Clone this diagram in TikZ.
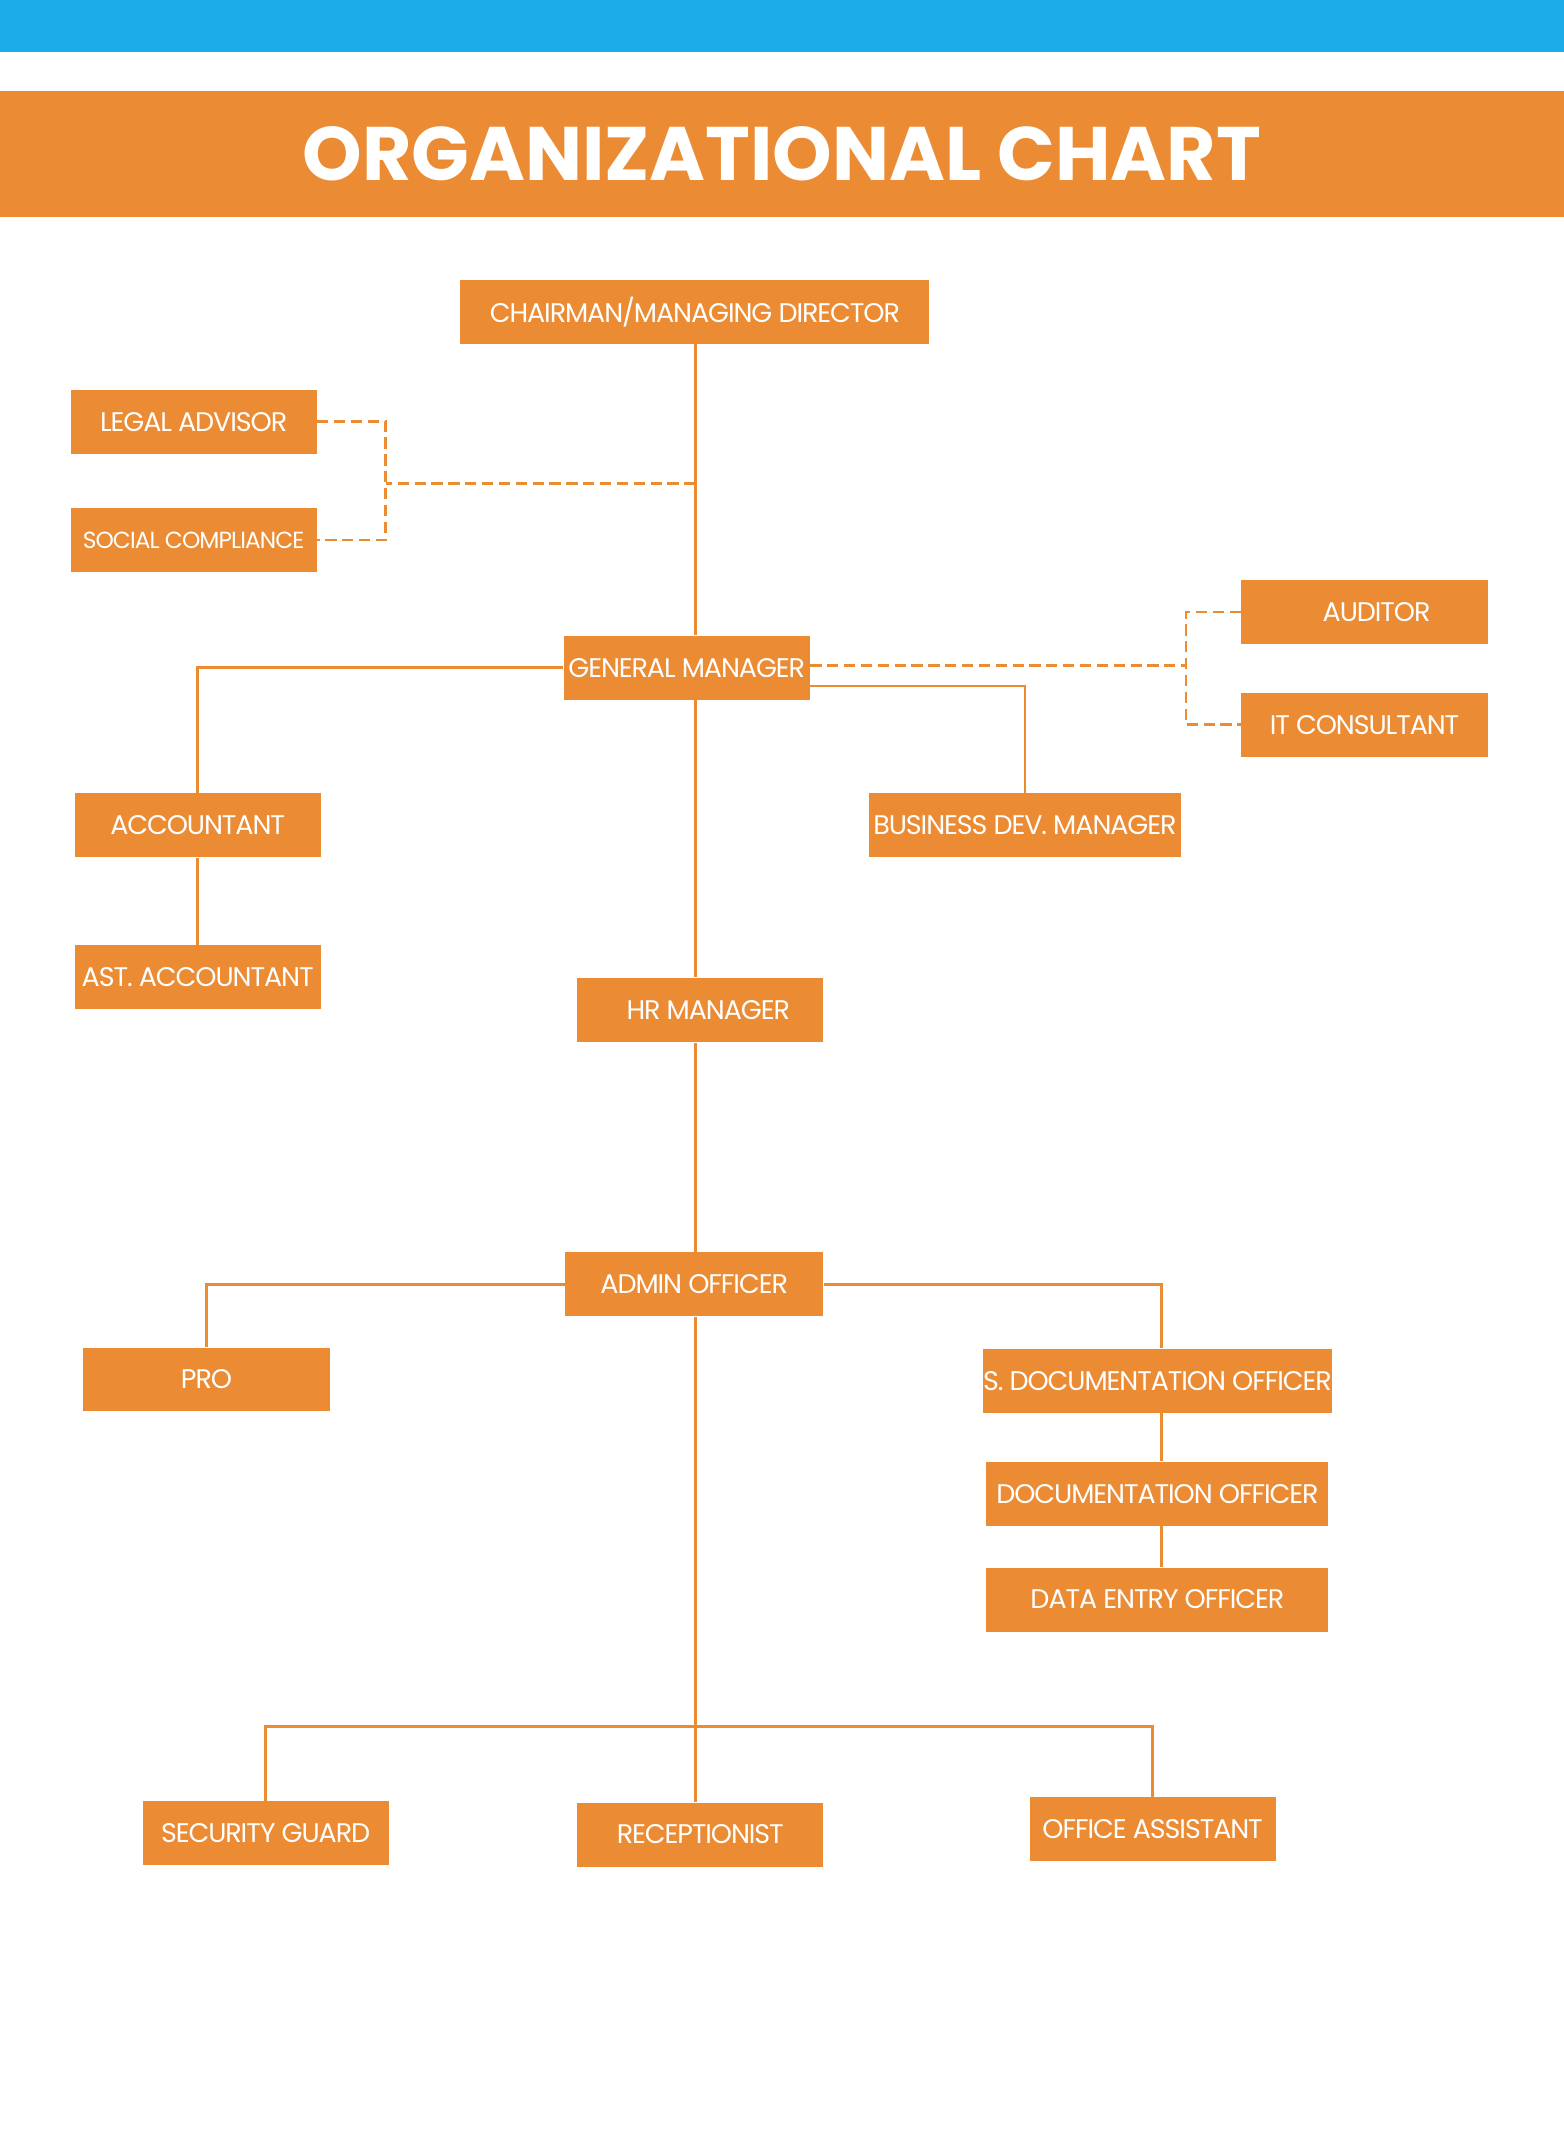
\documentclass[tikz,border=0pt]{standalone}
\usepackage{fontspec}
\setmainfont{Poppins}
\newfontfamily\boxfont[LetterSpace=-4]{Poppins}
\usetikzlibrary{positioning}
\definecolor{orgorange}{HTML}{EB8B33}
\definecolor{orgblue}{HTML}{1AACE8}
\begin{document}
\begin{tikzpicture}[x=0.017cm,y=-0.017cm,
  post/.style={fill=orgorange,text=white,inner sep=0pt,minimum height=0.8cm,
    minimum width=#1,font=\boxfont\fontsize{9.6}{11}\selectfont},
  post/.default=3.08cm,
  link/.style={draw=orgorange,line width=1pt},
  dotlink/.style={link,dash pattern=on 4pt off 2pt}]

\useasboundingbox (0,0) rectangle (1151,1568);
\fill[orgblue] (0,0) rectangle (1151,38);
\fill[orgorange] (0,67) rectangle (1151,160);
\node[text=white,font=\bfseries\fontsize{27}{30}\selectfont] (title) at (575.5,113) {ORGANIZATIONAL CHART};

% top level
\node[post=5.87cm] (chair) at (511.5,229.5) {CHAIRMAN/MANAGING DIRECTOR};
\node[post] (legal) at (142.5,310.5) {LEGAL ADVISOR};
\node[post,font=\boxfont\fontsize{8.3}{10}\selectfont] (social) at (142.5,397.5) {SOCIAL COMPLIANCE};
\node[post] (auditor) at (1004.5,450.5) {\hspace*{0.3cm}AUDITOR};
\node[post] (itc) at (1004.5,533.5) {IT CONSULTANT};
\node[post] (gm) at (505.5,491.5) {GENERAL MANAGER};
\node[post] (acc) at (145.5,607.5) {ACCOUNTANT};
\node[post=3.9cm] (bdm) at (754.5,607.5) {BUSINESS DEV. MANAGER};
\node[post] (ast) at (145.5,719.5) {AST. ACCOUNTANT};
\node[post] (hr) at (515.5,743.5) {\hspace*{0.2cm}HR MANAGER};

% admin level
\node[post=3.23cm] (admin) at (511,945.5) {ADMIN OFFICER};
\node[post] (pro) at (152,1015.5) {PRO};
\node[post=4.28cm] (sdoc) at (852,1016.5) {S. DOCUMENTATION OFFICER};
\node[post=4.28cm] (doc) at (852,1099.5) {DOCUMENTATION OFFICER};
\node[post=4.28cm] (data) at (852,1177.5) {DATA ENTRY OFFICER};
\node[post] (guard) at (195.5,1349.5) {SECURITY GUARD};
\node[post] (recep) at (515.5,1350.5) {RECEPTIONIST};
\node[post] (office) at (848.5,1346.5) {OFFICE ASSISTANT};

% junctions
\coordinate (cjoin) at (512,356);
\coordinate (lbar) at (284,356);
\coordinate (gjoin) at (873,490);
\coordinate (bottom) at (512,1271);

% connectors
\draw[link] (chair.south -| cjoin) -- (gm.north -| cjoin);
\draw[link] (gm.south -| cjoin) -- (hr.north -| cjoin);
\draw[link] (hr.south -| cjoin) -- (admin.north -| cjoin);
\draw[link] (admin.south -| cjoin) -- (bottom);
\draw[dotlink] (cjoin) -- (lbar);
\draw[dotlink] (legal.east) -| (lbar) |- (social.east);
\draw[dotlink] (gm.east |- gjoin) -- (gjoin);
\draw[dotlink] (auditor.west) -| (gjoin) |- (itc.west);
\draw[link] (gm.west) -| (acc.north);
\draw[link] (acc.south) -- (ast.north);
\draw[link] ([yshift=-0.23cm]gm.east) -| (bdm.north);
\draw[link] (admin.west) -| (pro.north);
\draw[link] (admin.east) -| ([xshift=0.05cm]sdoc.north);
\draw[link] ([xshift=0.05cm]sdoc.south) -- ([xshift=0.05cm]doc.north);
\draw[link] ([xshift=0.05cm]doc.south) -- ([xshift=0.05cm]data.north);
\draw[link] (guard.north) |- (bottom) -| (office.north);
\draw[link] (bottom) -- (recep.north -| bottom);

\end{tikzpicture}
\end{document}
